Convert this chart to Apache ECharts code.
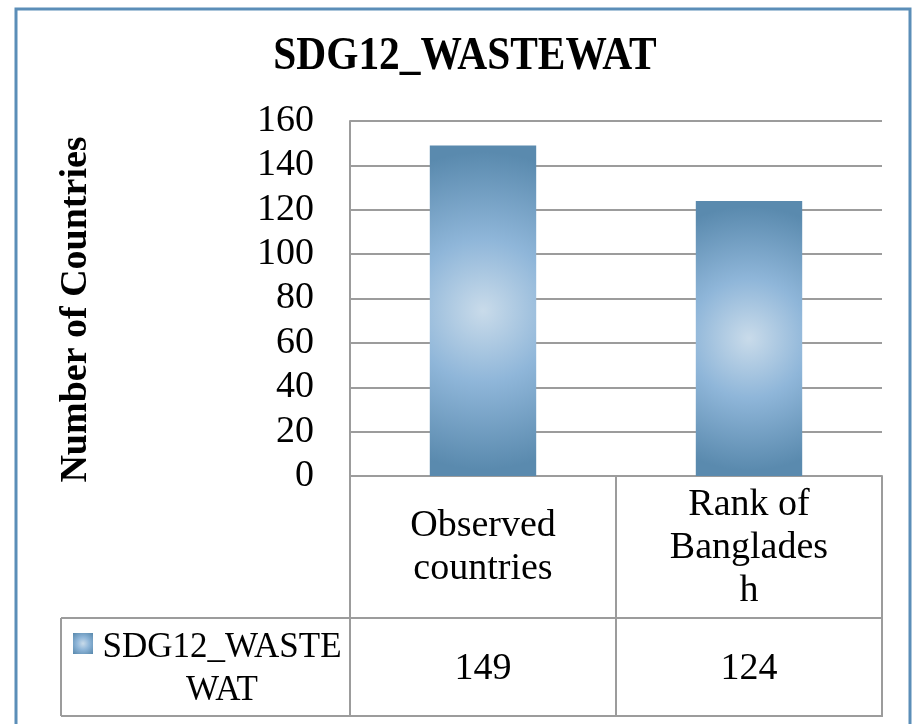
<!DOCTYPE html>
<html>
<head>
<meta charset="utf-8">
<script src="https://cdn.jsdelivr.net/npm/echarts@6/dist/echarts.min.js"></script>
<style>
  html, body { margin: 0; padding: 0; background: #fff; }
  #main { width: 912px; height: 724px; }
</style>
</head>
<body>
<div id="main"></div>
<script>
// data
var chartTitle = 'SDG12_WASTEWAT';
var seriesName = 'SDG12_WASTEWAT';
var legendLabel = 'SDG12_WASTE\nWAT';
var categories = ['Observed\ncountries', 'Rank of\nBanglades\nh'];
var values = [149, 124];
var yTicks = [0, 20, 40, 60, 80, 100, 120, 140, 160];

var FONT = 'Liberation Serif';
var LINE = '#9c9c9c';

var chart = echarts.init(document.getElementById('main'));

// bar fill, light centre fading to steel blue
function barFill(r) {
  return {
    type: 'radial', x: 0.5, y: 0.5, r: r,
    colorStops: [
      { offset: 0, color: '#c9dbea' },
      { offset: 0.45, color: '#8fb6d9' },
      { offset: 1, color: '#5a8aae' }
    ]
  };
}

var option = {
  backgroundColor: '#fff',
  animation: false,
  grid: { left: 350, right: 30, top: 121, bottom: 248 },
  xAxis: {
    type: 'category',
    data: categories,
    axisLine: { lineStyle: { color: LINE, width: 2 } },
    axisTick: { show: true, alignWithLabel: false, length: 241, lineStyle: { color: LINE, width: 2 } },
    axisLabel: {
      interval: 0,
      margin: 72,
      verticalAlign: 'middle',
      fontFamily: FONT, fontSize: 38, lineHeight: 43, color: '#000'
    },
    splitLine: { show: false }
  },
  yAxis: {
    type: 'value',
    min: yTicks[0],
    max: yTicks[yTicks.length - 1],
    interval: yTicks[1] - yTicks[0],
    name: 'Number of Countries',
    nameLocation: 'middle',
    nameRotate: 90,
    nameGap: 255,
    nameTextStyle: { fontFamily: FONT, fontSize: 38, fontWeight: 'bold', color: '#000', padding: [0, 22, 0, 0] },
    axisLine: { show: true, lineStyle: { color: LINE, width: 2 } },
    axisTick: { show: true, inside: true, length: 8, lineStyle: { color: LINE, width: 2 } },
    axisLabel: { margin: 36, fontFamily: FONT, fontSize: 38, color: '#000' },
    splitLine: { show: true, lineStyle: { color: LINE, width: 2 } }
  },
  series: [{
    name: seriesName,
    type: 'bar',
    barWidth: '40%',
    data: values.map(function (v) {
      return { value: v, itemStyle: { color: barFill(v / 100) } };
    }),
    itemStyle: {
      shadowBlur: 6,
      shadowColor: 'rgba(0,0,0,0.35)',
      shadowOffsetX: 2,
      shadowOffsetY: 2
    }
  }]
};
chart.setOption(option);

// title and data table below the axis
var tLeft = 61, tRight = 882, rowTop = 618, rowBottom = 716;
var graphics = [
  { type: 'rect', shape: { x: 16, y: 9, width: 894, height: 740 }, style: { fill: null, stroke: '#5b8eb8', lineWidth: 3 }, silent: true },
  {
    type: 'text', x: 465, y: 57, scaleX: 0.9,
    style: { text: chartTitle, font: 'bold 46px "' + FONT + '"', fill: '#000', align: 'center', verticalAlign: 'middle' }
  },
  { type: 'line', shape: { x1: tLeft, y1: rowTop, x2: tRight, y2: rowTop }, style: { stroke: LINE, lineWidth: 2 } },
  { type: 'line', shape: { x1: tLeft, y1: rowBottom, x2: tRight, y2: rowBottom }, style: { stroke: LINE, lineWidth: 2 } },
  { type: 'line', shape: { x1: tLeft, y1: rowTop, x2: tLeft, y2: rowBottom }, style: { stroke: LINE, lineWidth: 2 } },
  { type: 'rect', shape: { x: 73, y: 633, width: 20, height: 21 }, style: { fill: barFill(0.7) } },
  {
    type: 'text', x: 222, y: (rowTop + rowBottom) / 2 + 2,
    style: { text: legendLabel, font: '35px "' + FONT + '"', fill: '#000', align: 'center', verticalAlign: 'middle', lineHeight: 43 }
  }
];
values.forEach(function (v, i) {
  var cx = chart.convertToPixel({ xAxisIndex: 0 }, i);
  graphics.push({
    type: 'text', x: cx, y: (rowTop + rowBottom) / 2 + 2,
    style: { text: String(v), font: '38px "' + FONT + '"', fill: '#000', align: 'center', verticalAlign: 'middle' }
  });
});
chart.setOption({ graphic: graphics });
</script>
</body>
</html>
